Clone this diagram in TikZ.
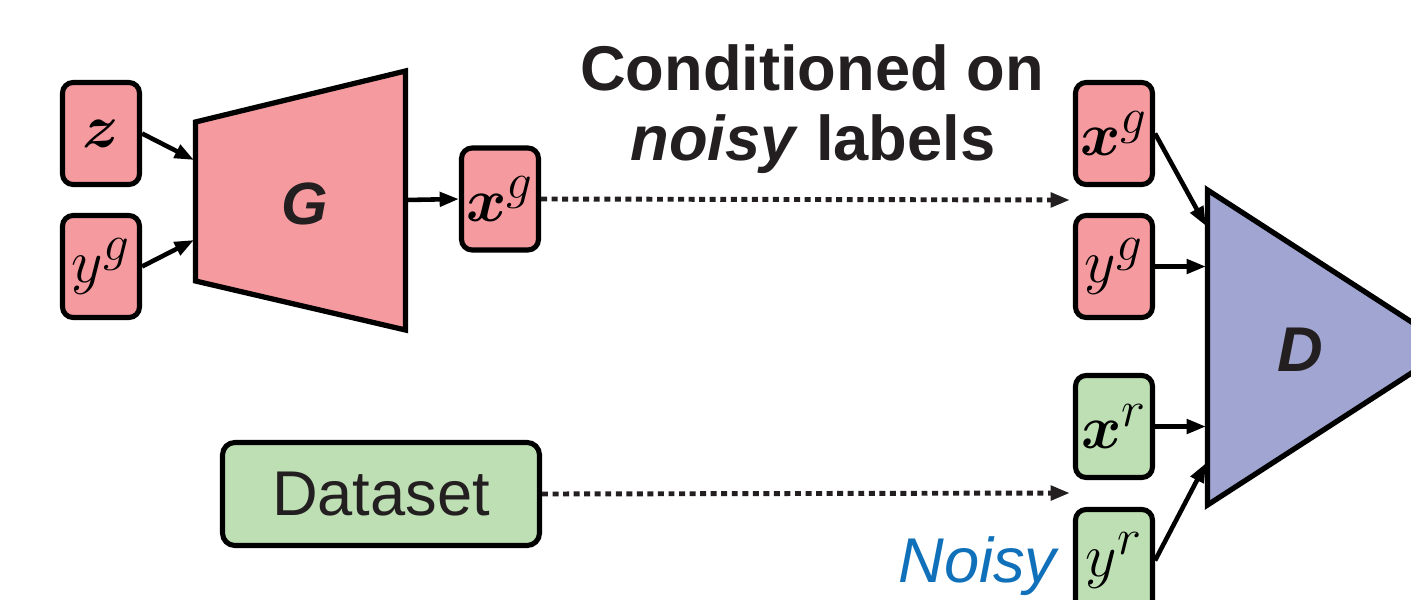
\documentclass[tikz,border=0pt]{standalone}
\usepackage{bm}
\usepackage{fontspec}
\setmainfont{Liberation Sans}
\usetikzlibrary{arrows.meta}
\definecolor{pinkf}{RGB}{245,155,160}
\definecolor{greenf}{RGB}{190,223,179}
\definecolor{purplef}{RGB}{160,166,209}
\definecolor{inkc}{RGB}{35,31,32}
\definecolor{noisyblue}{RGB}{16,113,186}
\newcommand{\mv}[1]{\scalebox{1.4}{\fontsize{24.88}{30}\selectfont$#1$}}
\tikzset{
  varbox/.style={draw=black, line width=2.9pt, rounded corners=6pt, minimum width=1.54cm, minimum height=2.04cm, inner sep=0pt},
  pinkbox/.style={varbox, fill=pinkf},
  greenbox/.style={varbox, fill=greenf},
  netshape/.style={draw=black, line width=3pt, line join=miter},
  solidarrow/.style={draw=black, line width=2.6pt, -{Triangle[length=11pt,width=8pt]}},
  dotarrow/.style={draw=inkc, line width=2.8pt, dash pattern=on 3.4pt off 2.6pt, -{Triangle[length=11pt,width=8pt]}},
  bigtext/.style={font=\fontsize{36}{43}\selectfont, text=inkc},
}
\begin{document}
\begin{tikzpicture}[x=0.02cm, y=-0.02cm]
\useasboundingbox (0,0) rectangle (1411,599);
\clip (0,0) rectangle (1411,599);
\fill[white] (0,0) rectangle (1411,599);

% Generator
\draw[netshape, fill=pinkf] (195.5,122) -- (405.5,71) -- (405.5,330) -- (195.5,281) -- cycle;
\node[bigtext, font=\fontsize{34}{40}\selectfont\bfseries\itshape] (G) at (305,204) {G};
\coordinate (Gin1) at (194,160);
\coordinate (Gin2) at (194,240);
\coordinate (Gout) at (406,200);

% Discriminator
\draw[netshape, fill=purplef] (1207.5,190) -- (1451,347.5) -- (1207.5,505) -- cycle;
\node[bigtext, font=\fontsize{36}{43}\selectfont\bfseries\itshape] (D) at (1300,350) {D};
\coordinate (Din1) at (1206,226);
\coordinate (Din2) at (1206,266.5);
\coordinate (Din3) at (1206,426.5);
\coordinate (Din4) at (1206,463);

% Boxes
\node[pinkbox] (z) at (101,133.5) {\mv{\bm{z}}};
\node[pinkbox] (ygl) at (101,266.5) {\mv{y^g}};
\node[pinkbox] (xgm) at (500,199) {\mv{\bm{x}^g}};
\node[pinkbox] (xgr) at (1114,133.5) {\mv{\bm{x}^g}};
\node[pinkbox] (ygr) at (1114,266.5) {\mv{y^g}};
\node[greenbox] (xr) at (1114,426.5) {\mv{\bm{x}^r}};
\node[greenbox] (yr) at (1114,560.5) {\mv{y^r}};
\node[draw=black, line width=2.9pt, rounded corners=7pt, fill=greenf, minimum width=6.34cm, minimum height=2.06cm, inner sep=0pt, bigtext] (data) at (381,494) {Dataset};

% Title
\node[bigtext, font=\fontsize{36}{43}\selectfont\bfseries, anchor=base] (title) at (812,90) {Conditioned on};
\node[bigtext, font=\fontsize{36}{43}\selectfont\bfseries, anchor=base] (title2) at (813,160) {\textit{noisy} labels};

% Noisy label
\node[font=\fontsize{36}{43}\selectfont\itshape, text=noisyblue, anchor=base east, inner sep=0pt] (noisy) at (1057,582) {Noisy};

% Dotted connectors
\coordinate (dend1) at (1070,200);
\coordinate (dend2) at (1070,493);
\draw[dotarrow] (xgm.east) -- (dend1);
\draw[dotarrow] (data.east) -- (dend2);

% Solid connectors
\draw[solidarrow] (z.east) -- (Gin1);
\draw[solidarrow] (ygl.east) -- (Gin2);
\draw[solidarrow] (Gout) -- (xgm.west);
\draw[solidarrow] (xgr.east) -- (Din1);
\draw[solidarrow] (ygr.east) -- (Din2);
\draw[solidarrow] (xr.east) -- (Din3);
\draw[solidarrow] (yr.east) -- (Din4);
\end{tikzpicture}
\end{document}
